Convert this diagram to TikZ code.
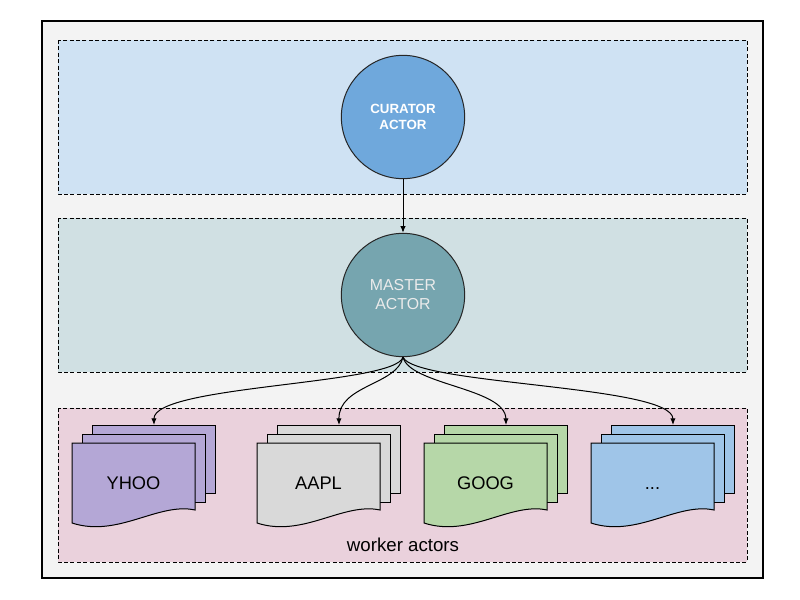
\documentclass[tikz,border=0pt]{standalone}
\usepackage{fontspec}
\setmainfont{Liberation Sans}
\usetikzlibrary{arrows.meta}

\definecolor{frameFill}{HTML}{F3F3F3}
\definecolor{curatorBand}{HTML}{CFE2F3}
\definecolor{masterBand}{HTML}{D0E0E3}
\definecolor{workerBand}{HTML}{EAD1DC}
\definecolor{curatorFill}{HTML}{6FA8DC}
\definecolor{masterFill}{HTML}{76A5AF}
\definecolor{yhooFill}{HTML}{B4A7D6}
\definecolor{aaplFill}{HTML}{D9D9D9}
\definecolor{googFill}{HTML}{B6D7A8}
\definecolor{moreFill}{HTML}{9FC5E8}

\tikzset{every picture/.style={line width=0.75pt}}
\tikzset{
  band/.style={draw=black, dash pattern=on 3pt off 1.8pt, line width=0.75pt},
  actor/.style={circle, draw=black!85, line width=0.75pt, minimum size=92.5pt, inner sep=0pt, align=center, text=white},
  sheet/.style={rectangle, draw=black, line width=0.75pt, minimum width=92.25pt, minimum height=51pt, inner sep=0pt, anchor=north west},
  doc/.style={draw=black, line width=0.75pt},
  docText/.style={font=\fontsize{13.7}{16}\selectfont, inner sep=0.75pt, anchor=base},
  flow/.style={draw=black, line width=0.75pt, -{Latex[length=5pt,width=4pt]}}
}

\begin{document}
\begin{tikzpicture}[x=0.75pt,y=0.75pt,yscale=-1,xscale=1]
\useasboundingbox (0,0) rectangle (800,600);

%Shape: Rectangle [frame]
\draw [fill=frameFill, line width=0.9pt] (42,21) rectangle (763,578);
%Shape: Rectangle [curator band]
\draw [band, fill=curatorBand] (58,40) rectangle (747,194);
%Shape: Rectangle [master band]
\draw [band, fill=masterBand] (58,218) rectangle (747,372);
%Shape: Rectangle [worker band]
\draw [band, fill=workerBand] (58,408) rectangle (747,562);

% Circle Nodes
\node (curator) [actor, fill=curatorFill, font=\fontsize{10}{12}\selectfont\bfseries] at (403,117)
  {CURATOR\\ACTOR};
\node (master) [actor, fill=masterFill, text=white!92!black, font=\fontsize{11.9}{14.2}\selectfont] at (403,295)
  {MASTER\\ACTOR};

%Shape: Document stack YHOO
\node (yhooBack) [sheet, fill=yhooFill] at (92,425) {};
\node (yhooMid) [sheet, fill=yhooFill] at (82,434) {};
\draw [doc, fill=yhooFill] (72,443) -- (195,443) -- (195,510) .. controls (158,502) and (118,538) .. (72,523) -- cycle;
%Shape: Document stack AAPL
\node (aaplBack) [sheet, fill=aaplFill] at (277,425) {};
\node (aaplMid) [sheet, fill=aaplFill] at (267,434) {};
\draw [doc, fill=aaplFill] (257,443) -- (380,443) -- (380,510) .. controls (343,502) and (303,538) .. (257,523) -- cycle;
%Shape: Document stack GOOG
\node (googBack) [sheet, fill=googFill] at (444,425) {};
\node (googMid) [sheet, fill=googFill] at (434,434) {};
\draw [doc, fill=googFill] (424,443) -- (547,443) -- (547,510) .. controls (510,502) and (470,538) .. (424,523) -- cycle;
%Shape: Document stack more
\node (moreBack) [sheet, fill=moreFill] at (611,425) {};
\node (moreMid) [sheet, fill=moreFill] at (601,434) {};
\draw [doc, fill=moreFill] (591,443) -- (714,443) -- (714,510) .. controls (677,502) and (637,538) .. (591,523) -- cycle;

% Text Node
\node (yhoo) [docText] at (133.5,489) {YHOO};
% Text Node
\node (aapl) [docText] at (318.5,489) {AAPL};
% Text Node
\node (goog) [docText] at (485.5,489) {GOOG};
% Text Node
\node (more) [docText] at (652.5,489) {...};
% Text Node
\node (workers) [font=\fontsize{14}{16}\selectfont] at (403,545) {worker actors};

%Straight Lines
\draw [flow] (curator.south) -- (master.north);
%Curve Lines
\draw [flow] (master.south) .. controls (395,385) and (153.5,385) .. (yhooBack.north);
\draw [flow] (master.south) .. controls (397,385) and (338.5,385) .. (aaplBack.north);
\draw [flow] (master.south) .. controls (410,385) and (505.5,388) .. (googBack.north);
\draw [flow] (master.south) .. controls (415,385) and (672.5,385) .. (moreBack.north);

\end{tikzpicture}
\end{document}
